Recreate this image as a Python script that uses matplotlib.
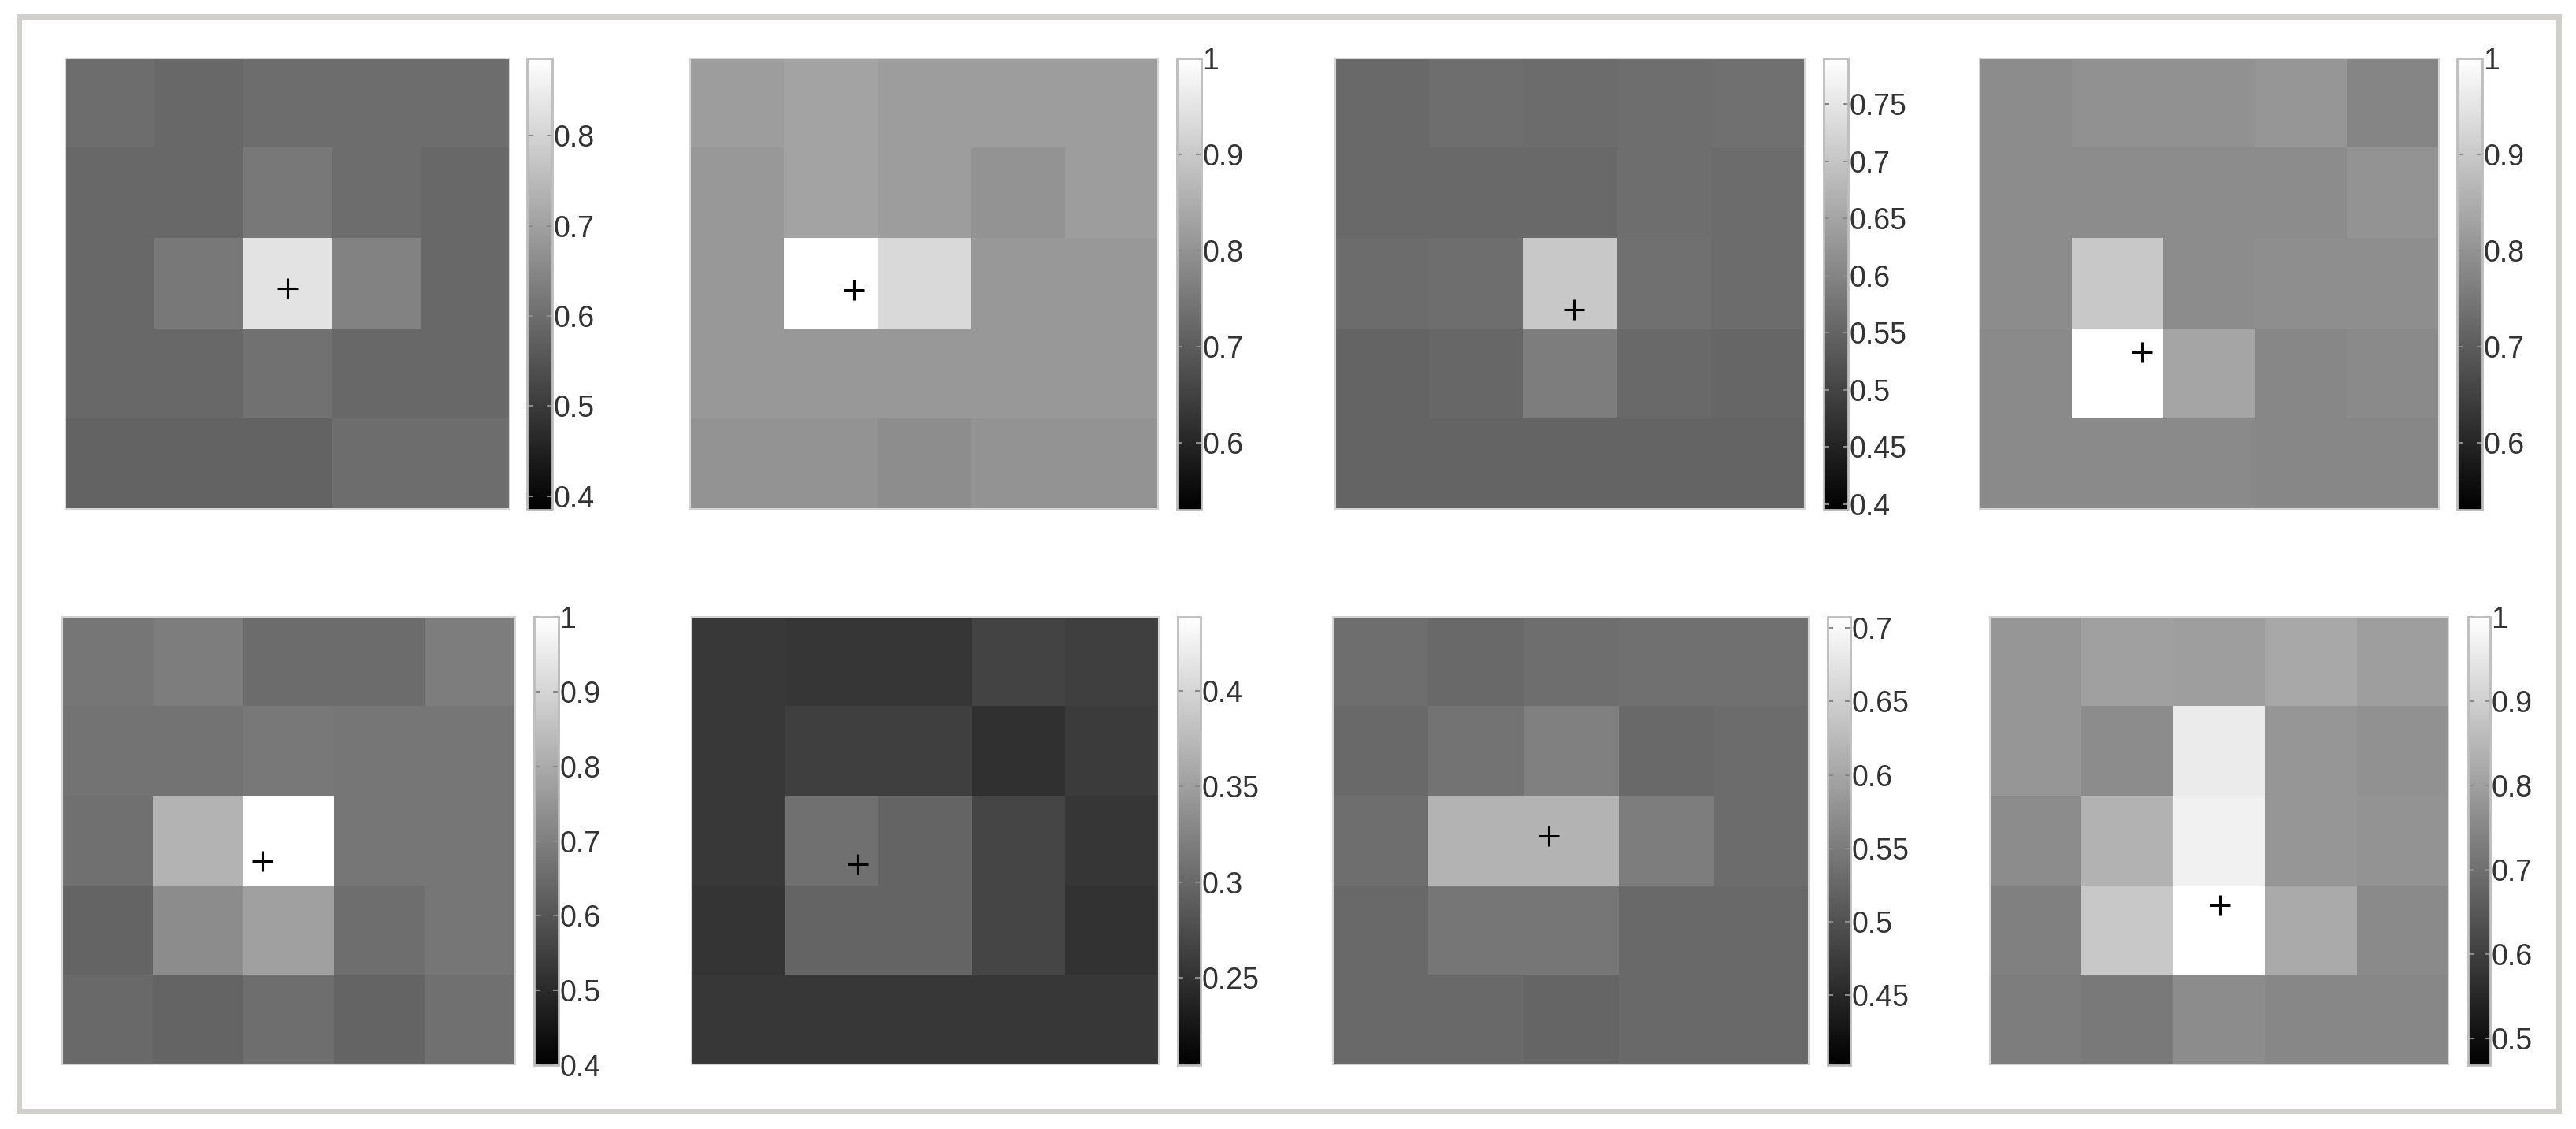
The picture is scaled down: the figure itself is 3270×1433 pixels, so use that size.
import numpy as np
import matplotlib
matplotlib.use("Agg")
import matplotlib.pyplot as plt
from matplotlib.patches import Rectangle

plt.rcParams['font.family'] = ['Liberation Sans', 'DejaVu Sans']

W, H = 3270, 1433

# 5x5 maps (rows top to bottom)
p1 = [[0.60, 0.59, 0.60, 0.60, 0.60],
      [0.59, 0.59, 0.62, 0.60, 0.59],
      [0.59, 0.62, 0.83, 0.64, 0.59],
      [0.59, 0.59, 0.61, 0.59, 0.59],
      [0.58, 0.58, 0.58, 0.60, 0.60]]
p2 = [[0.82, 0.83, 0.82, 0.82, 0.82],
      [0.81, 0.83, 0.82, 0.80, 0.82],
      [0.81, 1.00, 0.93, 0.81, 0.81],
      [0.81, 0.81, 0.81, 0.81, 0.81],
      [0.80, 0.80, 0.79, 0.80, 0.80]]
p3 = [[0.558, 0.565, 0.562, 0.565, 0.568],
      [0.559, 0.559, 0.559, 0.565, 0.562],
      [0.562, 0.565, 0.705, 0.568, 0.562],
      [0.550, 0.555, 0.589, 0.559, 0.553],
      [0.550, 0.550, 0.550, 0.550, 0.550]]
p4 = [[0.788, 0.797, 0.797, 0.806, 0.775],
      [0.788, 0.788, 0.788, 0.788, 0.803],
      [0.788, 0.899, 0.788, 0.792, 0.792],
      [0.784, 1.000, 0.834, 0.779, 0.784],
      [0.784, 0.784, 0.784, 0.779, 0.779]]
p5 = [[0.678, 0.694, 0.654, 0.654, 0.694],
      [0.671, 0.671, 0.682, 0.678, 0.678],
      [0.664, 0.824, 1.000, 0.678, 0.678],
      [0.635, 0.729, 0.776, 0.659, 0.678],
      [0.647, 0.635, 0.659, 0.635, 0.664]]
p6 = [[0.257, 0.254, 0.254, 0.266, 0.262],
      [0.257, 0.262, 0.262, 0.249, 0.259],
      [0.257, 0.307, 0.296, 0.268, 0.254],
      [0.253, 0.296, 0.296, 0.268, 0.250],
      [0.255, 0.255, 0.255, 0.255, 0.255]]
p7 = [[0.534, 0.528, 0.534, 0.536, 0.536],
      [0.528, 0.540, 0.556, 0.528, 0.532],
      [0.534, 0.618, 0.618, 0.552, 0.532],
      [0.528, 0.544, 0.544, 0.528, 0.528],
      [0.528, 0.528, 0.524, 0.528, 0.528]]
p8 = [[0.781, 0.802, 0.798, 0.818, 0.798],
      [0.781, 0.760, 0.958, 0.781, 0.770],
      [0.760, 0.839, 0.969, 0.781, 0.777],
      [0.735, 0.885, 1.000, 0.823, 0.756],
      [0.729, 0.722, 0.760, 0.750, 0.750]]

maps = [p1, p2, p3, p4, p5, p6, p7, p8]
clims = [(0.385, 0.886), (0.53, 1.0), (0.395, 0.79), (0.53, 1.0),
         (0.40, 1.0), (0.204, 0.439), (0.4025, 0.7075), (0.468, 1.0)]
cticks = [[0.4, 0.5, 0.6, 0.7, 0.8],
          [0.6, 0.7, 0.8, 0.9, 1.0],
          [0.4, 0.45, 0.5, 0.55, 0.6, 0.65, 0.7, 0.75],
          [0.6, 0.7, 0.8, 0.9, 1.0],
          [0.4, 0.5, 0.6, 0.7, 0.8, 0.9, 1.0],
          [0.25, 0.3, 0.35, 0.4],
          [0.45, 0.5, 0.55, 0.6, 0.65, 0.7],
          [0.5, 0.6, 0.7, 0.8, 0.9, 1.0]]
# '+' marker (column, row) in cell units
marks_x = [2.0, 1.25, 2.04, 1.27, 1.71, 1.28, 1.77, 2.01]
marks_y = [2.05, 2.07, 2.29, 2.76, 2.23, 2.26, 1.95, 2.72]

# pixel boxes (left, right) of heatmap and colorbar, per panel
hm_x = [(83, 647), (876, 1470), (1695, 2291), (2513, 3096),
        (79, 654), (878, 1471), (1692, 2296), (2526, 3108)]
cb_x = [(669, 701), (1494, 1525), (2315, 2346), (3119, 3151),
        (678, 709), (1495, 1524), (2320, 2349), (3133, 3161)]
rows_y = [(74, 646), (783, 1351)]


def box(x0, x1, y0, y1):
    return [x0 / W, 1 - y1 / H, (x1 - x0) / W, (y1 - y0) / H]


fig = plt.figure(figsize=(W / 100, H / 100), dpi=100)
fig.patches.append(Rectangle((23.5 / W, 1 - 1409.5 / H), 3224 / W, 1389 / H,
                             transform=fig.transFigure, fill=False,
                             edgecolor='#d0cfcc', lw=5.0))

for i in range(8):
    y0, y1 = rows_y[i // 4]
    ax = fig.add_axes(box(hm_x[i][0], hm_x[i][1], y0, y1))
    vmin, vmax = clims[i]
    im = ax.imshow(np.array(maps[i]), cmap='gray', vmin=vmin, vmax=vmax,
                   aspect='auto', interpolation='nearest')
    ax.plot(marks_x[i], marks_y[i], marker='+', color='black', ms=19, mew=2.2)
    ax.set_xticks([])
    ax.set_yticks([])
    for s in ax.spines.values():
        s.set_edgecolor('#d4d4d4')
        s.set_linewidth(1.5)

    cax = fig.add_axes(box(cb_x[i][0], cb_x[i][1], y0, y1 + 1))
    cb = fig.colorbar(im, cax=cax)
    cb.set_ticks(cticks[i])
    cb.set_ticklabels(['%g' % t for t in cticks[i]])
    cb.outline.set_edgecolor('#bdbdbd')
    cb.outline.set_linewidth(2)
    cax.tick_params(axis='y', direction='in', left=True, right=True,
                    length=5, width=1.5, color='#8a8a8a', pad=1,
                    labelsize=27, labelcolor='#333333')

fig.savefig('out.png', dpi=100, facecolor='white')
